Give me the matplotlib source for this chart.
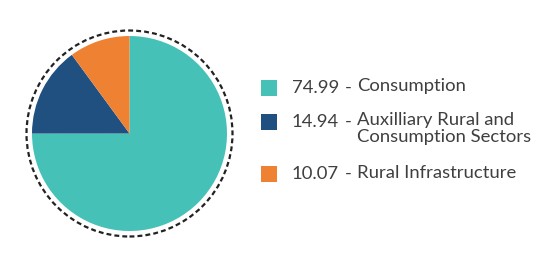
import matplotlib
matplotlib.use("Agg")
import matplotlib.pyplot as plt
from matplotlib.patches import Circle, Rectangle

# data
values = [74.99, 14.94, 10.07]
labels = ["Consumption", "Auxilliary Rural and\nConsumption Sectors", "Rural Infrastructure"]
colors = ["#45C1B8", "#1F5080", "#EF8133"]

W, H = 548, 258
TEXT = "#3f3f3f"
FS = 13.3

fig = plt.figure(figsize=(W / 100, H / 100), dpi=100)
ax = fig.add_axes([0, 0, 1, 1])

cx, cy, r = 129.5, 124.5, 97.5
ax.pie(values, colors=colors, startangle=90, counterclock=False,
       center=(cx, cy), radius=r, wedgeprops=dict(linewidth=0))
ax.add_patch(Circle((cx, cy), r + 5.5, fill=False, edgecolor="#222222",
                    linewidth=1.6, linestyle=(0, (2.2, 1.4))))

# legend, row centres in pixels from the top
row_y = [88, 122, 174]
for v, lbl, c, y in zip(values, labels, colors, row_y):
    yy = H - y
    ax.add_patch(Rectangle((261, yy - 8), 16, 16, color=c, linewidth=0))
    ax.text(292, yy, f"{v:.2f}", fontsize=FS, color=TEXT,
            va="center", ha="left", family="Lato")
    ax.text(345, yy, "-", fontsize=FS, color=TEXT,
            va="center", ha="left", family="Lato")
    ax.text(357, yy + 9.5, lbl, fontsize=FS, color=TEXT, va="top", ha="left",
            family="Lato", linespacing=1.05)

ax.set_xlim(0, W)
ax.set_ylim(0, H)
ax.set_aspect("equal")
ax.axis("off")

fig.savefig("out.png", dpi=100, facecolor="white")
